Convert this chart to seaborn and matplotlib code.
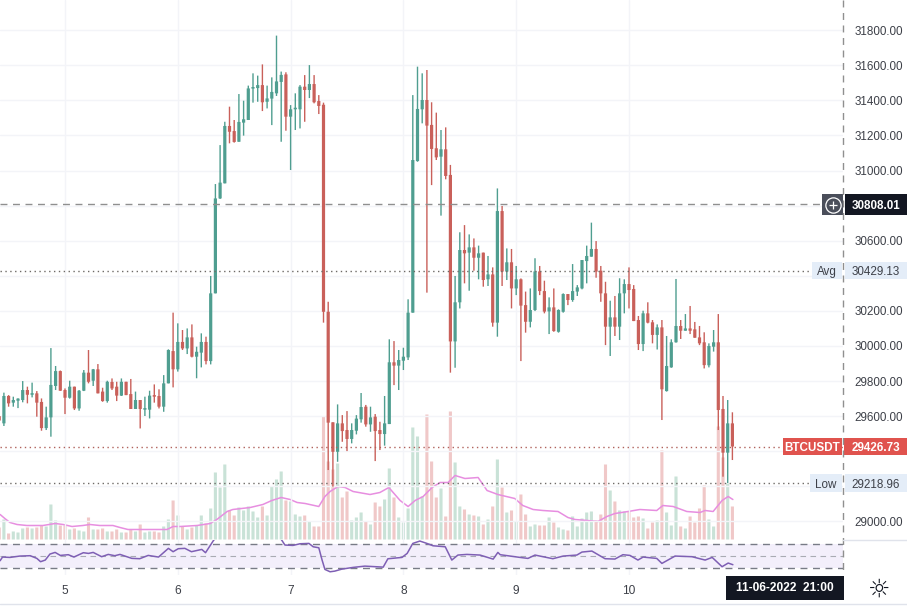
import numpy as np
import pandas as pd
import seaborn as sns
import matplotlib.pyplot as plt
from matplotlib.patches import Rectangle
from matplotlib.transforms import blended_transform_factory

# hourly BTCUSDT candles, hour 0 = day 5 00:00
opens = [29600, 29559, 29715, 29677, 29688, 29692, 29749, 29722, 29730, 29681, 29532, 29593, 29772, 29857, 29749, 29705,
         29768, 29644, 29745, 29848, 29802, 29867, 29740, 29686, 29795, 29768, 29717, 29796, 29726, 29641, 29692, 29637,
         29637, 29717, 29715, 29654, 29787, 29971, 29867, 30023, 29986, 30049, 29939, 29962, 30023, 29914, 30300, 30841,
         30927, 31254, 31225, 31164, 31273, 31288, 31467, 31470, 31487, 31392, 31410, 31440, 31505, 31548, 31307, 31349,
         31349, 31478, 31459, 31493, 31396, 31375, 30195, 29565, 29397, 29559, 29521, 29470, 29517, 29582, 29654, 29553,
         29597, 29521, 29498, 29555, 29907, 29888, 29916, 29935, 30190, 31054, 31349, 31402, 31260, 31127, 31079, 31121,
         30975, 30026, 30249, 30547, 30532, 30562, 30503, 30532, 30380, 30408, 30133, 30769, 30424, 30477, 30328, 30380,
         30233, 30138, 30205, 30425, 30313, 30197, 30220, 30081, 30195, 30296, 30262, 30310, 30328, 30484, 30509, 30553,
         30429, 30300, 30110, 30163, 30110, 30300, 30353, 30325, 30148, 30011, 30186, 30135, 30063, 30106, 29743, 29878,
         30021, 30114, 30087, 30100, 30095, 30049, 30021, 29890, 29996, 30021, 29641, 29392, 29559]
highs = [29610, 29734, 29720, 29711, 29702, 29800, 29768, 29791, 29743, 29701, 29654, 29988, 29886, 29860, 29758, 29802,
         29768, 29749, 29863, 29977, 29869, 29897, 29762, 29802, 29815, 29796, 29815, 29796, 29812, 29740, 29692, 29711,
         29745, 29781, 29753, 29834, 29981, 30190, 30129, 30091, 30100, 30123, 29996, 30072, 30053, 30399, 30923, 31145,
         31278, 31364, 31288, 31436, 31398, 31484, 31554, 31541, 31605, 31484, 31531, 31769, 31564, 31560, 31373, 31440,
         31487, 31544, 31601, 31544, 31430, 31387, 30252, 29565, 29667, 29606, 29629, 29559, 29606, 29732, 29664, 29654,
         29612, 29568, 29715, 30038, 30028, 29977, 29990, 30266, 31430, 31592, 31554, 31573, 31389, 31330, 31231, 31246,
         31032, 30399, 30648, 30689, 30636, 30613, 30572, 30532, 30513, 30448, 30898, 30798, 30556, 30553, 30456, 30385,
         30310, 30328, 30500, 30456, 30372, 30277, 30328, 30209, 30300, 30296, 30467, 30347, 30490, 30572, 30703, 30598,
         30456, 30366, 30258, 30285, 30386, 30380, 30448, 30347, 30171, 30201, 30249, 30148, 30123, 30148, 30057, 30038,
         30382, 30148, 30182, 30228, 30137, 30114, 30078, 30015, 30091, 30182, 29715, 29692, 29622]
lows = [29560, 29544, 29654, 29654, 29646, 29679, 29673, 29707, 29597, 29517, 29521, 29483, 29749, 29745, 29612, 29700,
        29635, 29631, 29743, 29787, 29772, 29730, 29682, 29677, 29749, 29686, 29715, 29720, 29641, 29641, 29530, 29601,
        29587, 29677, 29644, 29625, 29787, 29764, 29854, 29977, 29954, 29935, 29816, 29878, 29895, 29895, 30300, 30838,
        30927, 31155, 31159, 31164, 31199, 31288, 31387, 31392, 31339, 31354, 31259, 31425, 31164, 31227, 31003, 31231,
        31240, 31278, 31413, 31383, 31322, 30133, 29293, 29198, 29340, 29454, 29401, 29445, 29496, 29563, 29540, 29511,
        29344, 29407, 29432, 29555, 29777, 29749, 29863, 29920, 30190, 31050, 31269, 30304, 30917, 31060, 30743, 30950,
        29848, 29876, 30214, 30357, 30315, 30429, 30380, 30338, 30342, 30110, 30053, 30342, 30376, 30214, 30290, 29914,
        30076, 30106, 30199, 30290, 30186, 30068, 30081, 30076, 30190, 30233, 30252, 30285, 30323, 30357, 30509, 30389,
        30252, 30005, 29943, 30057, 30034, 30186, 30214, 30142, 29977, 29971, 30129, 30015, 29980, 29578, 29740, 29876,
        30019, 30040, 30087, 30068, 30047, 30005, 29872, 29878, 29968, 29521, 29255, 29219, 29350]
closes = [29575, 29715, 29673, 29692, 29700, 29749, 29722, 29728, 29677, 29532, 29593, 29778, 29857, 29745, 29705, 29768,
          29644, 29745, 29848, 29796, 29867, 29730, 29686, 29796, 29758, 29717, 29796, 29720, 29641, 29692, 29641, 29641,
          29717, 29711, 29654, 29787, 29977, 29867, 30023, 29986, 30049, 29939, 29967, 30023, 29914, 30300, 30841, 30931,
          31254, 31221, 31163, 31277, 31292, 31468, 31476, 31487, 31389, 31411, 31448, 31508, 31545, 31307, 31349, 31353,
          31478, 31459, 31493, 31389, 31368, 30195, 29563, 29397, 29559, 29515, 29470, 29521, 29586, 29652, 29553, 29593,
          29515, 29498, 29559, 29907, 29888, 29920, 29939, 30190, 31060, 31351, 31402, 31256, 31123, 31075, 31121, 30969,
          30026, 30249, 30547, 30528, 30562, 30503, 30528, 30376, 30408, 30133, 30769, 30424, 30477, 30328, 30380, 30230,
          30138, 30205, 30425, 30313, 30196, 30220, 30085, 30205, 30296, 30262, 30313, 30334, 30490, 30513, 30553, 30424,
          30300, 30110, 30163, 30110, 30300, 30353, 30319, 30142, 30011, 30186, 30133, 30063, 30106, 29753, 29886, 30021,
          30114, 30087, 30100, 30087, 30047, 30015, 29891, 30000, 30021, 29635, 29392, 29559, 29427]
volumes = [12, 20, 6, 8, 7, 11, 12, 11, 12, 14, 13, 35, 19, 14, 14, 10, 11, 9, 8, 22, 10,
           10, 11, 8, 8, 10, 7, 7, 10, 8, 15, 7, 8, 8, 7, 13, 20, 39, 24, 13, 10,
           12, 14, 24, 16, 31, 67, 52, 75, 29, 24, 32, 29, 33, 28, 22, 33, 24, 53, 60, 68,
           39, 38, 25, 23, 24, 18, 13, 13, 123, 78, 70, 76, 42, 48, 19, 22, 27, 18, 15, 37,
           33, 40, 71, 42, 22, 17, 31, 112, 103, 43, 125, 78, 42, 51, 23, 128, 77, 33, 30, 25,
           24, 23, 15, 20, 33, 80, 52, 27, 29, 18, 45, 25, 13, 15, 14, 14, 22, 17, 12, 10,
           9, 23, 13, 21, 27, 28, 19, 25, 75, 49, 38, 29, 28, 28, 22, 23, 21, 11, 17, 19,
           89, 27, 14, 63, 13, 11, 23, 17, 31, 54, 20, 13, 113, 82, 56, 33]
hours = list(range(-14, 143))

# volume moving average
ma_hours = [-13.8, -12.8, -11.7, -10.2, -8.1, -4.7, -2.1, -0.4, 1.5, 3.8, 5.3, 7.4, 10.2, 11.7, 13.4, 18.1, 21.7, 23,
            24.5, 28.1, 30.9, 32.3, 34.5, 35.7, 39.4, 42.1, 44, 46, 47.9, 49.4, 51.1, 54, 55.3, 56.4, 58.1, 59.6,
            61.3, 64.9, 67, 68.9, 71.3, 73, 74.5, 76.2, 78.1, 79.8, 81.5, 83, 85.1, 87.9, 89.8, 92.1, 95.7, 97.4,
            99.6, 101.7, 104.9, 107, 108.5, 111.1, 113.4, 115.3, 117, 119.8, 122.3, 125.9, 127.2, 129.4, 132.3,
            135.1, 136.2, 137.9, 139.8, 141.1, 142.1]
ma_values = [25, 21, 17, 15, 14, 14, 16, 15, 13, 14, 15, 14, 14, 12, 10, 10, 10, 13,
             13, 14, 16, 20, 28, 30, 32, 35, 39, 42, 40, 37, 36, 33, 43, 48, 53, 52,
             48, 45, 47, 52, 39, 33, 39, 43, 52, 57, 57, 64, 61, 62, 49, 45, 41, 34,
             30, 29, 28, 22, 20, 19, 18, 23, 26, 28, 30, 29, 34, 33, 28,
             27, 29, 28, 39, 43, 40]

# RSI
rsi_hours = [-13.8, -13.3, -11.7, -9.6, -7.4, -6, -5.2, -4.2, -3.2, -2.1, -1, 0.7, 1.9, 3.9, 5, 6, 7.8, 9.2, 10.6, 11.7,
             14.2, 15.9, 17.7, 19.9, 22, 23, 24.1, 25.5, 26.9, 29.1, 29.9, 31.6, 33, 45, 46.1, 46.8, 48.5, 50, 51.9,
             52.8, 54, 54.7, 55.3, 56.4, 57.4, 58.9, 61.3, 63.8, 67.7, 68.7, 71.7, 72.8, 74, 75.5, 77, 78.3, 80.9,
             82.3, 83.6, 85.5, 88.3, 91.1, 92.1, 92.6, 94.7, 96.8, 98.5, 100, 101.7, 103.8, 106, 108.9, 110, 112.1,
             114.9, 117, 118.7, 120.2, 121.9, 123, 125.9, 127, 129.8, 133.4, 136.2, 137.7, 139.8, 141.1, 142.1]
rsi_values = [41.6, 47.8, 47.2, 49.5, 50.1, 45.6, 39.9, 42.7, 52.9, 55.7, 50.6, 51.8, 47.8, 55.2, 54, 55.7, 48.4, 52.3,
              50.1, 52.3, 45.6, 45, 50.6, 47.8, 62.6, 56.9, 62, 62.6, 56.9, 60.8, 55.2, 76.1, 88, 88, 76.7, 68.2, 67.6,
              70.4, 71, 65.3, 63.6, 42.7, 26.8, 22.8, 23.9, 27.3, 30.2, 32.4, 30.7, 44.9, 47.2, 54, 71, 75, 71, 67,
              65.3, 42.7, 51.2, 52.3, 51.2, 44.3, 55.7, 51.8, 49.5, 47.2, 45.5, 51.2, 48.4, 45, 49.5, 51.2, 56.3, 58,
              45, 44.4, 51.8, 50.6, 42.7, 47.8, 45.5, 37, 49.5, 48.4, 42.7, 47.2, 31.4, 37.6, 34.8]

price_ticks = list(range(29000, 31801, 200))
hidden_ticks = [29200, 29400, 30400, 30800]  # sit behind the level tags
day_hours = [0, 24, 48, 72, 96, 120]
day_labels = ['5', '6', '7', '8', '9', '10']
level_cross = 30808.01
level_avg = 30429.13
level_last = 29426.73
level_low = 29218.96

GREEN = '#4f9e90'
RED = '#c9605a'
GREEN_VOL = '#c9e2d7'
RED_VOL = '#f0c8c8'
GRID = '#f3f4f8'
TEXT = '#3d4048'
DARK = '#131722'
TAG = '#e4edf8'

sns.set_theme(style='white')
plt.rcParams['font.family'] = ['Liberation Sans', 'DejaVu Sans']
plt.rcParams['font.size'] = 8.4

W, H = 907, 609
PANE_R, PANE_B, RSI_T, RSI_B = 843, 539.5, 540, 575
x_lim = (-65 / 4.7, (PANE_R - 65) / 4.7)
price_lim = (28897, 31972)

fig = plt.figure(figsize=(W / 100, H / 100), dpi=100, facecolor='white')
ax_vol = fig.add_axes([0, 1 - PANE_B / H, PANE_R / W, PANE_B / H], zorder=1)
ax = fig.add_axes([0, 1 - PANE_B / H, PANE_R / W, PANE_B / H], zorder=2, facecolor='none')
ax_rsi = fig.add_axes([0, 1 - RSI_B / H, PANE_R / W, (RSI_B - RSI_T) / H], zorder=2)
over = fig.add_axes([0, 0, 1, 1], zorder=5, facecolor='none')
over.set_xlim(0, W)
over.set_ylim(H, 0)
over.axis('off')

# volume and its average
df = pd.DataFrame({'hour': hours, 'volume': volumes, 'open': opens, 'high': highs, 'low': lows, 'close': closes})
df['up'] = df['close'] >= df['open']
sns.barplot(data=df, x='hour', y='volume', hue='up', palette={True: GREEN_VOL, False: RED_VOL}, native_scale=True,
            dodge=False, width=0.66, errorbar=None, legend=False, saturation=1, linewidth=0, ax=ax_vol)
for p in ax_vol.patches:
    p.set_snap(False)
sns.lineplot(x=ma_hours, y=ma_values, color='#e78ee0', linewidth=1.1, ax=ax_vol)
ax_vol.set_xlim(*x_lim)
ax_vol.set_ylim(0, PANE_B)
ax_vol.axis('off')

# candles
colors = df['up'].map({True: GREEN, False: RED})
wicks = ax.vlines(df['hour'], df['low'], df['high'], colors=colors, linewidth=1.0, zorder=3)
wicks.set_snap(False)
bodies = ax.bar(df['hour'], (df['close'] - df['open']).abs().clip(lower=9), bottom=df[['open', 'close']].min(axis=1),
                width=0.68, color=colors, linewidth=0, zorder=4)
for p in bodies:
    p.set_snap(False)

ax.set_xlim(*x_lim)
ax.set_ylim(*price_lim)
ax.set_yticks(price_ticks, ['' if p in hidden_ticks else f'{p:.2f}' for p in price_ticks])
ax.yaxis.tick_right()
ax.tick_params(axis='y', length=0, pad=8, labelsize=8.4, labelcolor=TEXT)
ax.set_xticks(day_hours)
ax.tick_params(axis='x', length=0, labelbottom=False)
ax.grid(True, color=GRID, linewidth=1)
ax.set_axisbelow(True)
for s in ax.spines.values():
    s.set_visible(False)

# price levels
ax.axhline(level_cross, color='#8f8f8f', linewidth=1, dashes=(5, 4), zorder=5)
ax.axhline(level_avg, xmax=812 / PANE_R, color='#6e6a66', linewidth=1, dashes=(1, 2.5), zorder=5)
ax.axhline(level_last, color='#b0625c', linewidth=1, dashes=(1, 2.5), zorder=5)
ax.axhline(level_low, xmax=810 / PANE_R, color='#6e6a66', linewidth=1, dashes=(1, 2.5), zorder=5)

# rsi pane
ax_rsi.axhspan(30, 70, color='#f3effb', linewidth=0)
ax_rsi.axhline(70, color='#787b86', linewidth=1, dashes=(5, 4))
ax_rsi.axhline(50, color='#a9abb3', linewidth=0.8, dashes=(5, 4))
ax_rsi.axhline(30, color='#787b86', linewidth=1, dashes=(5, 4))
sns.lineplot(x=rsi_hours, y=rsi_values, color='#7e5fb4', linewidth=1.1, ax=ax_rsi)
ax_rsi.set_xlim(*x_lim)
ax_rsi.set_ylim(17.3, 76.8)
ax_rsi.set_yticks([])
ax_rsi.set_xticks(day_hours, day_labels)
ax_rsi.tick_params(axis='x', length=0, pad=7, labelsize=8.6, labelcolor=TEXT)
ax_rsi.grid(True, axis='x', color=GRID, linewidth=1)
ax_rsi.set_axisbelow(True)
for s in ax_rsi.spines.values():
    s.set_visible(False)

# price scale chrome
over.plot([PANE_R, PANE_R], [0, RSI_B], color='#8f8f8f', linewidth=1, dashes=(5, 4))
over.plot([PANE_R, W], [PANE_B, PANE_B], color='#e0e3eb', linewidth=1)
over.plot([0, W], [603.5, 603.5], color='#e0e3eb', linewidth=1)

price_y = blended_transform_factory(over.transData, ax.transData)
box_h = 17.5 * 5.7


def tag(level, x0, x1, text, bg, fg, ha='center', h=box_h, tx=None, **kw):
    over.add_patch(Rectangle((x0, level - h / 2), x1 - x0, h, transform=price_y, facecolor=bg, edgecolor='none',
                             clip_on=False))
    over.text((x0 + x1) / 2 if tx is None else tx, level, text, transform=price_y, ha=ha, va='center_baseline',
              color=fg, fontsize=8.4, clip_on=False, **kw)


tag(level_cross, 845, W, f'{level_cross:.2f}', DARK, 'white', h=21 * 5.7, fontweight='bold')
tag(level_cross, 822, 843, '', '#4a4e5a', 'white', h=21 * 5.7)
over.plot([832.5], [204.5], marker='o', markersize=11, markerfacecolor='none', markeredgecolor='white', markeredgewidth=0.9)
over.plot([832.5], [204.5], marker='+', markersize=6, color='white', markeredgewidth=0.9)
tag(level_avg, 812, 842, 'Avg', TAG, TEXT, tx=827)
tag(level_avg, 845, W, f'{level_avg:.2f}', TAG, TEXT)
tag(level_low, 810, 842, 'Low', TAG, TEXT, tx=826)
tag(level_low, 845, W, f'{level_low:.2f}', TAG, TEXT)
tag(level_last, 783, 842, 'BTCUSDT', '#e0534e', 'white', fontweight='bold')
tag(level_last, 844, W, f'{level_last:.2f}', '#e0534e', 'white', fontweight='bold')

# time axis chrome
over.add_patch(Rectangle((726, 576), 118, 24, facecolor=DARK, edgecolor='none'))
over.text(785, 588, '11-06-2022  21:00', color='white', ha='center', va='center', fontsize=8.6, fontweight='bold')
over.text(879, 590, '\u263c', family='DejaVu Sans', color=DARK, ha='center', va='center', fontsize=18)

fig.savefig('out.png', dpi=100)
